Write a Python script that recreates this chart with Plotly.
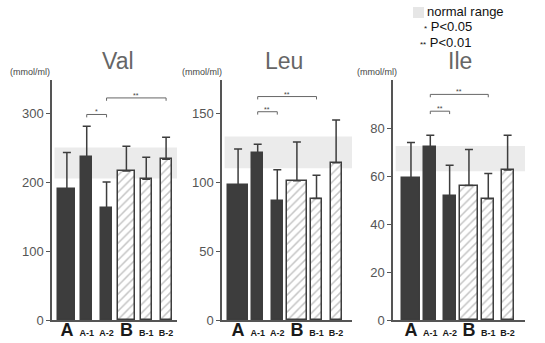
import plotly.graph_objects as go

categories = ["A", "A-1", "A-2", "B", "B-1", "B-2"]
tick_labels = ["A", "A-1", "A-2", "B", "B-1", "B-2"]
big_cats = {"A", "B"}

panels = ["Val", "Leu", "Ile"]
means = {
    "Val": [190, 236, 162, 216, 204, 233],
    "Leu": [98, 121, 86, 101, 88, 114],
    "Ile": [59, 72, 51.5, 56, 50.5, 62.5],
}
upper = {
    "Val": [243, 281, 200, 252, 236, 265],
    "Leu": [124, 127.5, 109, 129, 105, 145],
    "Ile": [74, 77, 64.5, 71, 61, 77],
}
normal_range = {"Val": (205, 250), "Leu": (110, 133), "Ile": (62, 72.5)}
y_ticks = {"Val": [0, 100, 200, 300], "Leu": [0, 50, 100, 150], "Ile": [0, 20, 40, 60, 80]}
y_max = {"Val": 348, "Leu": 174, "Ile": 100}
# significance brackets: (from, to, level, mark)
brackets = {
    "Val": [("A-1", "A-2", 298, "*"), ("A-2", "B-2", 322, "**")],
    "Leu": [("A-1", "A-2", 151, "**"), ("A-1", "B-1", 162, "**")],
    "Ile": [("A-1", "A-2", 87, "**"), ("A-1", "B-1", 94, "**")],
}

W, H = 545, 343
x_px = {"Val": (52, 177), "Leu": (222, 352), "Ile": (393, 525)}
x_rng = {"Val": (-0.75, 5.55), "Leu": (-0.82, 5.81), "Ile": (-0.93, 5.9)}
big_w = {"Val": 0.86, "Leu": 1.0, "Ile": 0.93}
small_w = {"Val": 0.55, "Leu": 0.56, "Ile": 0.62}
y_dom = [23 / H, 263 / H]
title_px = {"Val": 118, "Leu": 284, "Ile": 460}
unit_px = {"Val": 8, "Leu": 180, "Ile": 355}

dark = "#3d3d3d"
fig = go.Figure()
layout = dict(width=W, height=H, margin=dict(l=0, r=0, t=0, b=0, autoexpand=False),
              paper_bgcolor="white", plot_bgcolor="white", showlegend=False,
              font=dict(family="Liberation Sans, Arial, sans-serif"))
shapes, annotations = [], []


def note(x, y, text, size, color, xanchor="center"):
    return dict(x=x / W, y=1 - y / H, xref="paper", yref="paper", text=text,
                showarrow=False, xanchor=xanchor, yanchor="middle",
                font=dict(size=size, color=color))


for i, p in enumerate(panels):
    sfx = "" if i == 0 else str(i + 1)
    xa, ya = "x" + sfx, "y" + sfx
    widths = [big_w[p] if c in big_cats else small_w[p] for c in categories]
    dark_idx = [0, 1, 2]
    hatch_idx = [3, 4, 5]
    for idx, hatched in ((dark_idx, False), (hatch_idx, True)):
        m = [means[p][k] for k in idx]
        e = [upper[p][k] - means[p][k] for k in idx]
        marker = dict(color=dark if not hatched else "white",
                      line=dict(color=dark, width=1.5))
        if hatched:
            marker["pattern"] = dict(shape="/", fgcolor="#8a8a8a", bgcolor="white",
                                     size=6, solidity=0.25)
        fig.add_trace(go.Bar(
            x=[categories[k] for k in idx], y=m, width=[widths[k] for k in idx],
            marker=marker, xaxis=xa, yaxis=ya,
            error_y=dict(type="data", symmetric=False, array=e,
                         arrayminus=[0] * len(e), color=dark, thickness=1.5, width=4),
        ))
    for (c0, c1, lvl, mark) in brackets[p]:
        tick = y_max[p] * 0.012
        fig.add_trace(go.Scatter(
            x=[c0, c0, c1, c1], y=[lvl - tick, lvl, lvl, lvl - tick],
            mode="lines", line=dict(color="#666", width=1), xaxis=xa, yaxis=ya,
            hoverinfo="skip"))
        mid = (categories.index(c0) + categories.index(c1)) / 2
        annotations.append(dict(x=mid, y=lvl, xref=xa, yref=ya, text=mark,
                                showarrow=False, yanchor="bottom", xanchor="center",
                                yshift=-3, font=dict(size=7, color="#444")))
    lo, hi = normal_range[p]
    shapes.append(dict(type="rect", xref=xa + " domain", yref=ya, x0=0.02, x1=1.0,
                       y0=lo, y1=hi, fillcolor="#ebebeb", line=dict(width=0),
                       layer="below"))
    ticktext = [f"<b><span style='font-size:18px'>{t}</span></b>" if c in big_cats
                else f"<b>{t}</b>" for c, t in zip(categories, tick_labels)]
    layout["xaxis" + sfx] = dict(
        domain=[x_px[p][0] / W, x_px[p][1] / W], range=list(x_rng[p]),
        type="category", categoryorder="array", categoryarray=categories,
        tickvals=categories, ticktext=ticktext, ticks="", showgrid=False,
        showline=True, linecolor="#555", linewidth=1.5, anchor=ya, automargin=False,
        tickfont=dict(size=9, color="#1a1a1a"), zeroline=False, ticklabelstandoff=3)
    layout["yaxis" + sfx] = dict(
        domain=y_dom, range=[0, y_max[p]], tickvals=y_ticks[p], ticks="outside",
        ticklen=4, tickcolor="#555", showgrid=False, showline=True, linecolor="#555",
        linewidth=1.5, anchor=xa, zeroline=False, automargin=False,
        tickfont=dict(size=13, color="#555"))
    annotations.append(note(title_px[p], 61, p, 23, "#666"))
    annotations.append(note(unit_px[p], 72, "(mmol/ml)", 9, "#444", "left"))

# legend
shapes.append(dict(type="rect", xref="paper", yref="paper", x0=413 / W, x1=424 / W,
                   y0=1 - 18 / H, y1=1 - 7 / H, fillcolor="#e6e6e6", line=dict(width=0)))
annotations.append(note(425, 12, "normal range", 13, "#111", "left"))
annotations.append(note(422, 27, "<span style='font-size:8px'>*</span> P&lt;0.05", 13,
                        "#111", "left"))
annotations.append(note(418, 42, "<span style='font-size:8px'>**</span> P&lt;0.01", 13,
                        "#111", "left"))

layout["shapes"] = shapes
layout["annotations"] = annotations
layout["bargap"] = 0
fig.update_layout(**layout)
fig.write_html("out.html", config={"displayModeBar": False},
               post_script="document.body.style.margin='0';document.body.style.padding='0';")
